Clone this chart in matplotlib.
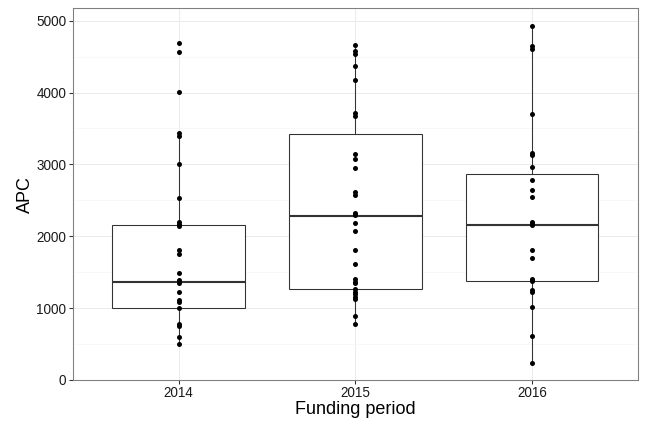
import matplotlib
matplotlib.use('Agg')
import matplotlib.pyplot as plt
from matplotlib.ticker import FixedLocator

periods = ['2014', '2015', '2016']

apc_2014 = [4694, 4560, 4008, 3430, 3400, 3002, 2537, 2200, 2170, 2140,
            1810, 1760, 1493, 1392, 1346, 1229, 1113, 1090, 998, 779,
            751, 594, 501]
apc_2015 = [4662, 4580, 4540, 4374, 4175, 3710, 3680, 3145, 3075, 2954,
            2610, 2570, 2330, 2306, 2290, 2189, 2078, 1809, 1614, 1400,
            1370, 1350, 1260, 1230, 1200, 1160, 1130, 886, 775]
apc_2016 = [4930, 4648, 4602, 3702, 3163, 3131, 2968, 2783, 2640, 2547,
            2199, 2180, 2157, 1809, 1702, 1405, 1390, 1378, 1252, 1229,
            1020, 612, 232]

box_q1 = [1000, 1262, 1378]
box_median = [1360, 2285, 2157]
box_q3 = [2157, 3423, 2867]
whisker_low = [501, 775, 232]
whisker_high = [3414, 4662, 4930]

y_ticks = [0, 1000, 2000, 3000, 4000, 5000]

fig = plt.figure(figsize=(9, 6), dpi=72)
ax = fig.add_axes([0.1122, 0.1204, 0.8724, 0.8604])

positions = [1, 2, 3]
stats = []
for i in range(3):
    stats.append(dict(med=box_median[i], q1=box_q1[i], q3=box_q3[i],
                      whislo=whisker_low[i], whishi=whisker_high[i], fliers=[]))

dark = '#333333'
ax.bxp(stats, positions=positions, widths=0.75, showcaps=False, showfliers=False,
       patch_artist=True,
       boxprops=dict(facecolor='white', edgecolor=dark, linewidth=1.07),
       whiskerprops=dict(color=dark, linewidth=1.07),
       medianprops=dict(color=dark, linewidth=2.1),
       zorder=2)

for pos, vals in zip(positions, [apc_2014, apc_2015, apc_2016]):
    ax.plot([pos] * len(vals), vals, 'o', color='black', markersize=5.0,
            markeredgewidth=0, zorder=3)

ax.set_xlim(0.4, 3.6)
ax.set_ylim(0, 5172)
ax.set_xticks(positions)
ax.set_xticklabels(periods)
ax.set_yticks(y_ticks)
ax.yaxis.set_minor_locator(FixedLocator([500, 1500, 2500, 3500, 4500]))

ax.set_axisbelow(True)
ax.grid(True, which='major', color='#EBEBEB', linewidth=1.0)
ax.grid(True, which='minor', axis='y', color='#F5F5F5', linewidth=0.6)

for s in ax.spines.values():
    s.set_color('#7F7F7F')
    s.set_linewidth(1.07)

ax.tick_params(which='major', color=dark, length=3.9, width=1.07,
               labelsize=13.5, labelcolor='#1a1a1a', pad=2.5)
ax.tick_params(which='minor', length=0)

for lab in ax.get_xticklabels() + ax.get_yticklabels():
    lab.set_family('Liberation Sans')

ax.set_xlabel('Funding period', fontsize=18, family='Liberation Sans', labelpad=1)
ax.set_ylabel('APC', fontsize=18, family='Liberation Sans', labelpad=2.5)

fig.savefig('out.png', dpi=72)
